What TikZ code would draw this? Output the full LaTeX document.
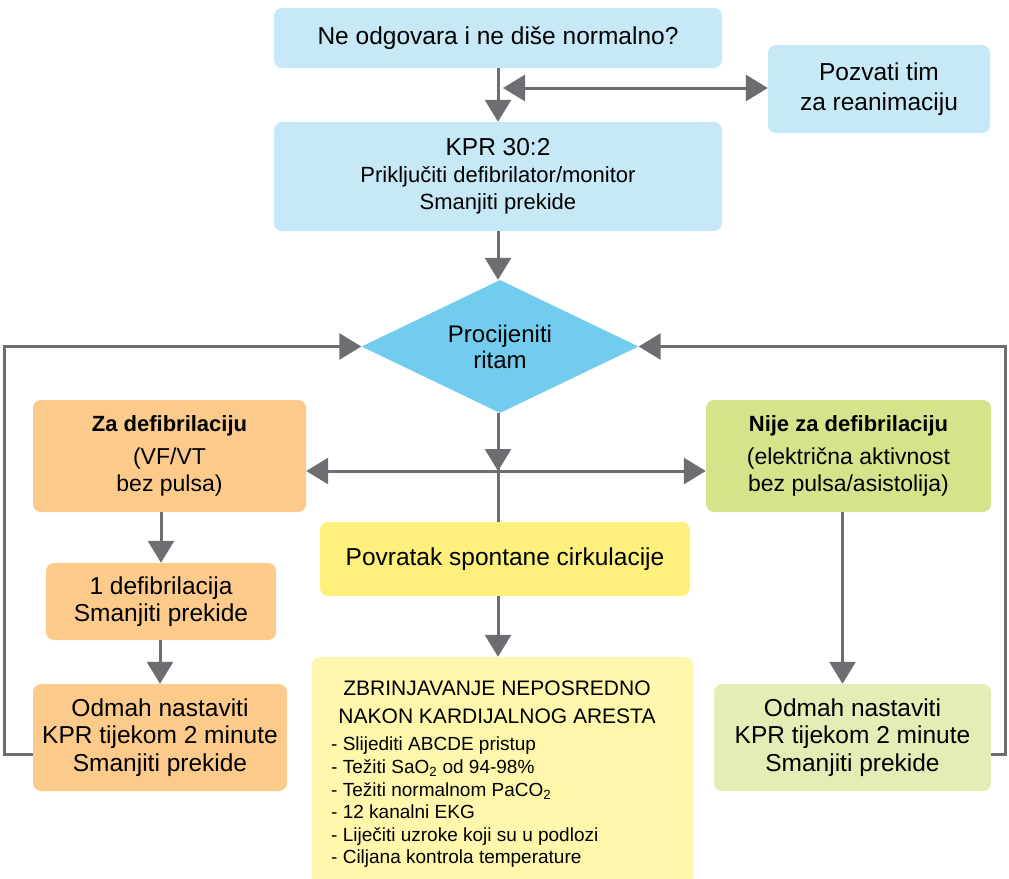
\documentclass[tikz,border=0pt]{standalone}
\usepackage{fontspec}
\setmainfont{Liberation Sans}
\usetikzlibrary{arrows.meta,shapes.geometric}
\definecolor{lblue}{HTML}{C6E8F7}
\definecolor{dblue}{HTML}{72CCEE}
\definecolor{orng}{HTML}{FCCB8B}
\definecolor{grn}{HTML}{D6E38B}
\definecolor{lgrn}{HTML}{E3EDB6}
\definecolor{ylw}{HTML}{FDF07C}
\definecolor{lylw}{HTML}{FEF7AC}
\definecolor{lgray}{HTML}{6D6E71}
\newcommand\myfs[2]{\fontsize{#1}{#2}\selectfont}
\begin{document}
\begin{tikzpicture}[x=1pt,y=-1pt,
  box/.style={rectangle, rounded corners=8pt, inner sep=0pt, align=center, font=\myfs{24.5}{27.5}},
  arr/.style={draw=lgray, line width=3pt, -{Triangle[width=26pt,length=22pt]}},
  dbl/.style={draw=lgray, line width=3pt, {Triangle[width=26pt,length=22pt]}-{Triangle[width=26pt,length=22pt]}},
  conn/.style={draw=lgray, line width=3pt}]
\useasboundingbox (0,0) rectangle (1009,878);
\clip (0,0) rectangle (1009,878);

\node[box, fill=lblue, minimum width=448pt, minimum height=60pt] (q) at (498,38) {Ne odgovara i ne diše normalno?};
\node[box, fill=lblue, minimum width=222pt, minimum height=88pt, font=\myfs{24.5}{30}] (team) at (879,89) {Pozvati tim\\za reanimaciju};
\node[box, fill=lblue, minimum width=448pt, minimum height=109pt, font=\myfs{22}{27}] (kpr) at (498,176.5) {{\myfs{24.5}{28}KPR 30:2}\\Priključiti defibrilator/monitor\\Smanjiti prekide};
\node[diamond, aspect=2.08, fill=dblue, minimum width=277pt, minimum height=133pt, inner sep=0pt, align=center, font=\myfs{24}{26}] (rhythm) at (500,346.5) {Procijeniti\\ritam};
\node[box, fill=orng, minimum width=273pt, minimum height=112pt, font=\myfs{23}{27}] (shock) at (169.5,456) {{\myfs{22}{27}\textbf{Za defibrilaciju}}\\[6pt](VF/VT\\bez pulsa)};
\node[box, fill=grn, minimum width=285pt, minimum height=112pt, font=\myfs{23}{27}] (noshock) at (848.5,456) {{\myfs{22}{27}\textbf{Nije za defibrilaciju}}\\[6pt](električna aktivnost\\bez pulsa/asistolija)};
\node[box, fill=ylw, minimum width=370pt, minimum height=74pt] (rosc) at (505,559) {Povratak spontane cirkulacije};
\node[box, fill=lylw, minimum width=381pt, minimum height=250pt] (post) at (502.5,782) {};
\node[align=center, inner sep=0pt, font=\myfs{21}{28}, anchor=center] (posttitle) at (497,702) {ZBRINJAVANJE NEPOSREDNO\\NAKON KARDIJALNOG ARESTA};
\node[align=left, inner sep=0pt, font=\myfs{19}{22.6}, anchor=north west] (postlist) at (331,737) {- Slijediti ABCDE pristup\\- Težiti SaO\textsubscript{2} od 94-98\%\\- Težiti normalnom PaCO\textsubscript{2}\\- 12 kanalni EKG\\- Liječiti uzroke koji su u podlozi\\- Ciljana kontrola temperature};
\node[box, fill=orng, minimum width=230pt, minimum height=77pt] (shock1) at (161,601.5) {1 defibrilacija\\Smanjiti prekide};
\node[box, fill=orng, minimum width=254pt, minimum height=107pt] (cprL) at (160,737.5) {Odmah nastaviti\\KPR tijekom 2 minute\\Smanjiti prekide};
\node[box, fill=lgrn, minimum width=277pt, minimum height=107pt] (cprR) at (852.5,737.5) {Odmah nastaviti\\KPR tijekom 2 minute\\Smanjiti prekide};

\coordinate (dl) at (503,88);
\coordinate (cross) at (498,471);

\draw[arr] (q.south) -- (kpr.north);
\draw[dbl] (dl) -- (team.west |- dl);
\draw[arr] (kpr.south) -- (rhythm.north -| kpr.south);
\draw[conn] (cross |- rhythm.south) -- (cross |- rosc.north);
\draw[arr] (cross |- rhythm.south) -- (cross);
\draw[dbl] (shock.east |- cross) -- (noshock.west |- cross);
\draw[arr] (cross |- rosc.south) -- (cross |- post.north);
\draw[arr] (shock1.north |- shock.south) -- (shock1.north);
\draw[arr] (shock1.south -| cprL.north) -- (cprL.north);
\draw[arr] ([xshift=-10pt]cprR.north |- noshock.south) -- ([xshift=-10pt]cprR.north);
\draw[arr] ([yshift=-17pt]cprL.west) -- ++(-28,0) |- (rhythm.west);
\draw[arr] ([yshift=-17pt]cprR.east) -- ++(14,0) |- (rhythm.east);
\end{tikzpicture}
\end{document}
